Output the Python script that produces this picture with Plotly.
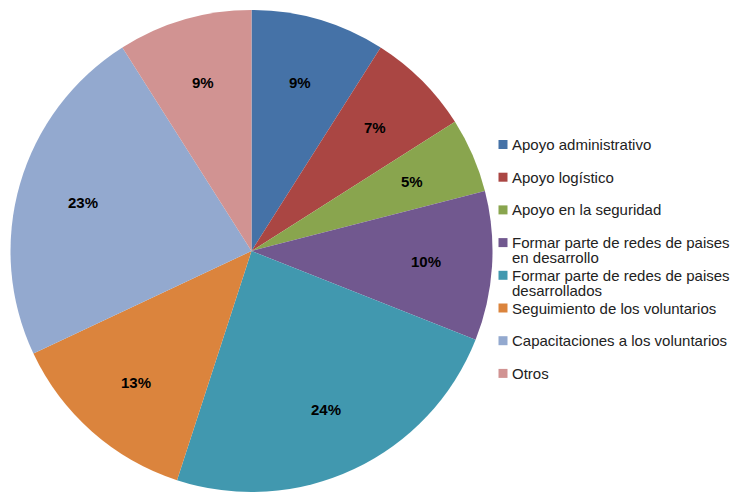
import math
import plotly.graph_objects as go

labels = ["Apoyo administrativo", "Apoyo logístico", "Apoyo en la seguridad",
          "Formar parte de redes de paises<br>en desarrollo",
          "Formar parte de redes de paises<br>desarrollados",
          "Seguimiento de los voluntarios", "Capacitaciones a los voluntarios", "Otros"]
values = [9, 7, 5, 10, 24, 13, 23, 9]
colors = ["#4572A7", "#AA4643", "#89A54E", "#71588F", "#4198AF", "#DB843D", "#93A9CF", "#D19392"]

W, H = 741, 493
OFF = 8  # page body margin

def px(x):
    return (x - OFF) / W

def py(y):
    return 1 - (y - OFF) / H

cx, cy, R = 251.5, 251, 241

fig = go.Figure(go.Pie(
    labels=[l.replace("<br>", " ") for l in labels], values=values, sort=False,
    direction="clockwise", rotation=0,
    marker=dict(colors=colors, line=dict(width=0)),
    textinfo="none",
    domain=dict(x=[px(cx - R), px(cx + R)], y=[py(cy + R), py(cy - R)]),
    hoverinfo="label+percent", showlegend=False,
))

annotations = []
shapes = []
total = sum(values)
cum = 0
label_r = 0.726 * R
for v in values:
    mid = (cum + v / 2) / total * 2 * math.pi
    cum += v
    x = cx + label_r * math.sin(mid)
    y = cy - label_r * math.cos(mid)
    annotations.append(dict(
        x=px(x), y=py(y), xref="paper", yref="paper", showarrow=False,
        text=f"{round(v / total * 100)}%", xanchor="center", yanchor="middle",
        font=dict(family="Liberation Sans, Arial", size=15, color="black", weight="bold"),
    ))

row0, step, line_h = 144.5, 32.7, 15
for i, (lab, col) in enumerate(zip(labels, colors)):
    yc = row0 + i * step
    shapes.append(dict(type="rect", xref="paper", yref="paper",
                       x0=px(498.5), x1=px(507.5), y0=py(yc - 4.5), y1=py(yc + 4.5),
                       fillcolor=col, line=dict(width=0)))
    for j, line in enumerate(lab.split("<br>")):
        annotations.append(dict(
            x=px(510), y=py(yc + j * line_h), xref="paper", yref="paper", showarrow=False,
            text=line, xanchor="left", yanchor="middle",
            font=dict(family="Liberation Sans Narrow, Arial Narrow, Liberation Sans, Arial",
                      size=15, color="#222"),
        ))

fig.update_layout(
    width=W, height=H, margin=dict(l=0, r=0, t=0, b=0),
    paper_bgcolor="white", plot_bgcolor="white",
    showlegend=False, annotations=annotations, shapes=shapes,
)
fig.write_html("out.html")
